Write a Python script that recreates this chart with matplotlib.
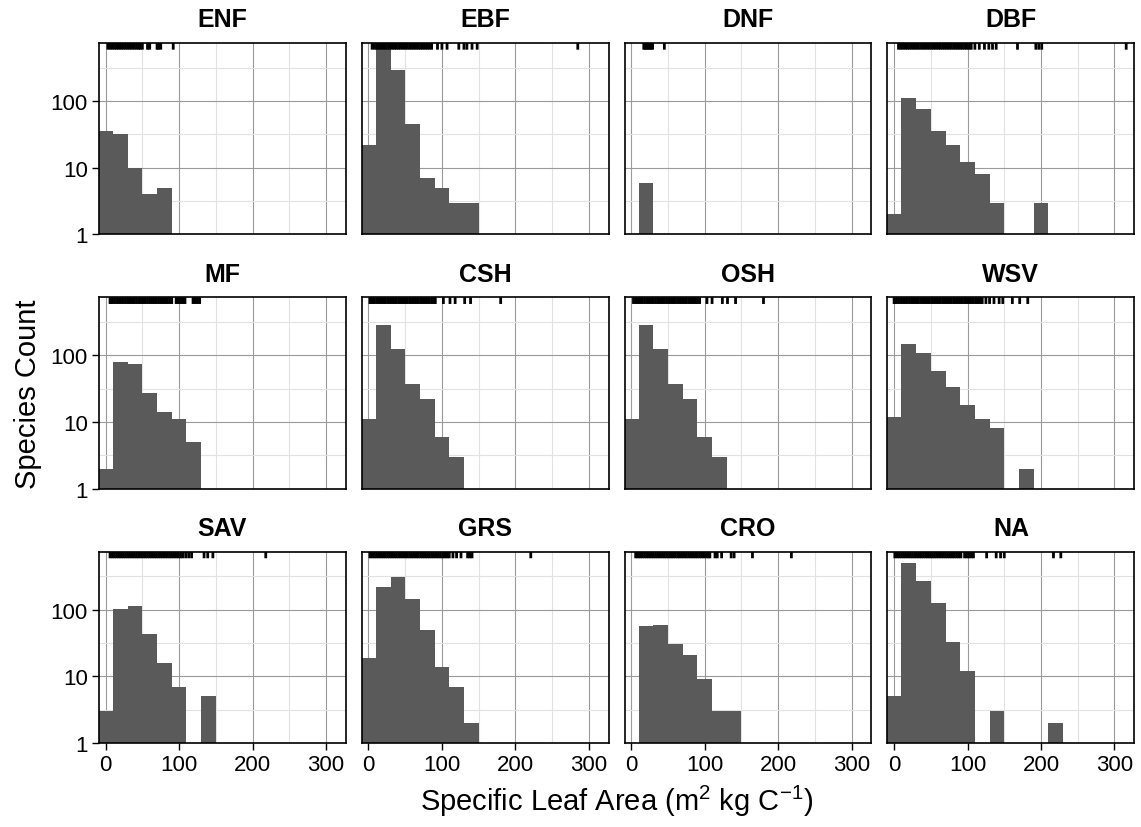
import numpy as np
import matplotlib
matplotlib.use('Agg')
import matplotlib.pyplot as plt
from matplotlib.ticker import NullFormatter

plt.rcParams['font.family'] = ['Liberation Sans', 'DejaVu Sans']
plt.rcParams['mathtext.fontset'] = 'custom'
plt.rcParams['mathtext.rm'] = 'Liberation Sans'

# Panel names (plant functional types)
PFTS = ['ENF', 'EBF', 'DNF', 'DBF', 'MF', 'CSH', 'OSH', 'WSV', 'SAV', 'GRS', 'CRO', 'NA']

# Histogram bins: left edges, 20 wide
BIN_LEFT = [-10, 10, 30, 50, 70, 90, 110, 130, 150, 170, 190, 210]
BIN_WIDTH = 20

# Species counts per bin
ENF_COUNTS = [35, 32, 10, 4, 5]
EBF_COUNTS = [22, 650, 293, 45, 7, 5, 3, 3]
DNF_COUNTS = [0, 6]
DBF_COUNTS = [2, 112, 77, 35, 22, 12, 8, 3, 0, 0, 3]
MF_COUNTS = [2, 78, 73, 27, 14, 11, 5]
CSH_COUNTS = [11, 288, 123, 37, 22, 6, 3]
OSH_COUNTS = [11, 288, 123, 37, 22, 6, 3]
WSV_COUNTS = [12, 146, 110, 58, 33, 18, 11, 8, 0, 2]
SAV_COUNTS = [3, 101, 112, 43, 16, 7, 0, 5]
GRS_COUNTS = [19, 221, 305, 143, 50, 14, 7, 2]
CRO_COUNTS = [0, 56, 59, 30, 21, 9, 3, 3]
NA_COUNTS = [5, 496, 272, 124, 33, 12, 0, 3, 0, 0, 0, 2]

# Individual SLA values shown as rug ticks at the top of each panel
ENF_RUG = [3, 6, 9, 12, 15, 18, 21, 24, 27, 30, 33, 36, 39, 42, 45, 47, 50,
           57, 60, 70, 72, 75, 92]
EBF_RUG = [5, 8, 11, 14, 17, 20, 23, 26, 29, 32, 35, 38, 41, 44, 47, 50, 53,
           56, 59, 62, 65, 68, 71, 74, 77, 80, 83, 86, 94, 100, 107, 123, 130,
           134, 141, 148, 285]
DNF_RUG = [17, 19, 21, 23, 25, 27, 29, 45]
DBF_RUG = [6, 9, 12, 15, 18, 21, 24, 27, 30, 33, 36, 39, 42, 45, 48, 51, 54,
           57, 60, 63, 66, 69, 72, 75, 78, 81, 84, 87, 90, 93, 96, 99, 102,
           105, 110, 116, 123, 129, 134, 139, 168, 193, 197, 201, 316]
MF_RUG = [6, 9, 12, 15, 18, 21, 24, 27, 30, 33, 36, 39, 42, 45, 48, 51, 54,
          57, 60, 63, 66, 69, 72, 75, 78, 81, 84, 87, 90, 96, 99, 102, 105,
          108, 119, 122, 125, 128]
CSH_RUG = [2, 5, 8, 11, 14, 17, 20, 23, 26, 29, 32, 35, 38, 41, 44, 47, 50,
           53, 56, 59, 62, 65, 68, 71, 74, 77, 80, 83, 86, 89, 91, 102, 111,
           118, 131, 139, 180]
OSH_RUG = [3, 6, 9, 12, 15, 18, 21, 24, 27, 30, 33, 36, 39, 42, 45, 48, 51,
           54, 57, 60, 63, 66, 69, 72, 75, 78, 81, 84, 87, 90, 93, 103, 110,
           124, 131, 142, 180]
WSV_RUG = [0, 3, 6, 9, 12, 15, 18, 21, 24, 27, 30, 33, 36, 39, 42, 45, 48,
           51, 54, 57, 60, 63, 66, 69, 72, 75, 78, 81, 84, 87, 90, 93, 96, 99,
           102, 105, 108, 111, 114, 117, 120, 125, 130, 136, 143, 148, 161,
           171, 182]
SAV_RUG = [6, 9, 12, 15, 18, 21, 24, 27, 30, 33, 36, 39, 42, 45, 48, 51, 54,
           57, 60, 63, 66, 69, 72, 75, 78, 81, 84, 87, 90, 93, 96, 99, 102,
           105, 109, 113, 117, 134, 139, 146, 218]
GRS_RUG = [2, 5, 8, 11, 14, 17, 20, 23, 26, 29, 32, 35, 38, 41, 44, 47, 50,
           53, 56, 59, 62, 65, 68, 71, 74, 77, 80, 83, 86, 89, 92, 95, 98, 101,
           104, 107, 110, 115, 120, 126, 135, 138, 141, 221]
CRO_RUG = [6, 9, 12, 15, 18, 21, 24, 27, 30, 33, 36, 39, 42, 45, 48, 51, 54,
           57, 60, 63, 66, 69, 72, 75, 78, 81, 84, 87, 90, 93, 96, 99, 102,
           105, 107, 114, 117, 123, 136, 140, 165, 218]
NA_RUG = [1, 4, 7, 10, 13, 16, 19, 22, 25, 28, 31, 34, 37, 40, 43, 46, 49, 52,
          55, 58, 61, 64, 67, 70, 73, 76, 79, 82, 85, 88, 91, 96, 99, 102, 105,
          108, 126, 139, 145, 150, 217, 227]

COUNTS = [ENF_COUNTS, EBF_COUNTS, DNF_COUNTS, DBF_COUNTS, MF_COUNTS,
          CSH_COUNTS, OSH_COUNTS, WSV_COUNTS, SAV_COUNTS, GRS_COUNTS,
          CRO_COUNTS, NA_COUNTS]
RUGS = [ENF_RUG, EBF_RUG, DNF_RUG, DBF_RUG, MF_RUG, CSH_RUG, OSH_RUG,
        WSV_RUG, SAV_RUG, GRS_RUG, CRO_RUG, NA_RUG]

BAR_COLOR = '#5a5a5a'


def draw_panel(ax, name, counts, rug, row, col):
    left = np.array(BIN_LEFT[:len(counts)], dtype=float)
    counts = np.array(counts, dtype=float)
    keep = counts > 0
    ax.bar(left[keep], counts[keep], width=BIN_WIDTH, align='edge',
           color=BAR_COLOR, linewidth=0, zorder=2)
    # rug along the top edge
    rug_lines = ax.vlines(rug, 0.965, 1.0, transform=ax.get_xaxis_transform(),
                          color='black', linewidth=2.0, capstyle='butt',
                          zorder=3)
    rug_lines.set_snap(False)

    ax.set_yscale('log')
    ax.set_xlim(-9, 327)
    ax.set_ylim(1, 740)

    ax.set_xticks([0, 100, 200, 300])
    ax.set_xticks([50, 150, 250], minor=True)
    ax.set_yticks([1, 10, 100], labels=['1', '10', '100'])
    ax.set_yticks([10 ** 0.5, 10 ** 1.5, 10 ** 2.5], minor=True)
    ax.yaxis.set_minor_formatter(NullFormatter())

    ax.set_axisbelow(True)
    ax.grid(which='major', color='#9a9a9a', linewidth=0.8)
    ax.grid(which='minor', color='#e2e2e2', linewidth=0.8)

    ax.tick_params(which='minor', length=0)
    ax.tick_params(which='major', length=5, width=1, labelsize=16, pad=3)
    if col > 0:
        ax.tick_params(axis='y', left=False, labelleft=False)
    if row < 2:
        ax.tick_params(axis='x', bottom=False, labelbottom=False)

    for spine in ax.spines.values():
        spine.set_linewidth(1.2)

    ax.set_title(name, fontsize=18, fontweight='bold', pad=12)


def main():
    fig, axes = plt.subplots(3, 4, figsize=(11.41, 8.28), dpi=100)
    fig.subplots_adjust(left=0.0868, right=0.9941, top=0.9469, bottom=0.1014,
                        wspace=0.065, hspace=0.328)

    for i, ax in enumerate(axes.flat):
        draw_panel(ax, PFTS[i], COUNTS[i], RUGS[i], i // 4, i % 4)

    fig.text(0.0245, 0.524, 'Species Count', rotation=90,
             ha='center', va='center', fontsize=21)
    fig.text(0.5405, 0.021,
             r'Specific Leaf Area (m$^{\mathregular{2}}$ kg C$^{\mathregular{-1}}$)',
             ha='center', va='baseline', fontsize=21)

    fig.savefig('out.png', dpi=100)


if __name__ == '__main__':
    main()
